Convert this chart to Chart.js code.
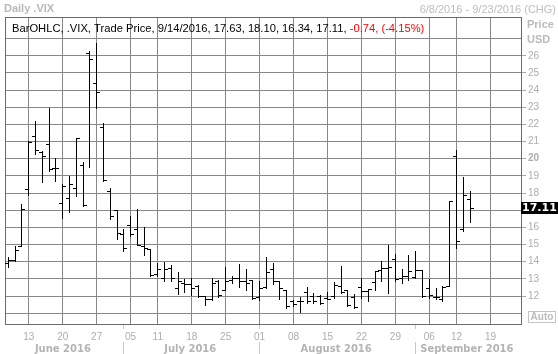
<!DOCTYPE html>
<html><head><meta charset="utf-8">
<script src="https://cdn.jsdelivr.net/npm/chart.js@4.4.1/dist/chart.umd.min.js"></script>
<style>html,body{margin:0;padding:0;background:#fff;overflow:hidden}canvas{display:block}</style>
</head><body>
<canvas id="c" width="558" height="354"></canvas>
<script>
// ---- data ----
const dates = ['6/8','6/9','6/10','6/13','6/14','6/15','6/16','6/17','6/20','6/21','6/22','6/23','6/24','6/27','6/28','6/29','6/30',
 '7/1','7/5','7/6','7/7','7/8','7/11','7/12','7/13','7/14','7/15','7/18','7/19','7/20','7/21','7/22','7/25','7/26','7/27','7/28','7/29',
 '8/1','8/2','8/3','8/4','8/5','8/8','8/9','8/10','8/11','8/12','8/15','8/16','8/17','8/18','8/19','8/22','8/23','8/24','8/25','8/26','8/29','8/30','8/31',
 '9/1','9/2','9/6','9/7','9/8','9/9','9/12','9/13','9/14','9/15','9/16','9/19','9/20','9/21','9/22','9/23'];
const dataYear = 2016;
const openV  = [13.89,14.05,14.90,18.23,21.27,20.34,20.82,19.46,17.40,17.70,18.28,19.60,26.16,24.40,21.80,18.09,16.98,
 15.60,16.09,15.89,14.87,14.72,13.25,13.00,13.60,12.45,12.73,12.70,12.53,11.95,11.80,12.85,12.35,12.93,13.05,12.83,12.90,
 11.90,12.50,13.55,12.87,12.30,11.70,11.67,12.20,12.00,11.95,11.86,12.00,12.55,12.31,11.92,12.50,12.25,12.78,13.48,13.62,14.15,13.04,13.16,
 13.09,13.51,12.45,11.92,11.77,12.58,20.14,15.90,17.63];
const highV  = [14.28,14.91,17.37,21.02,22.19,20.47,22.93,20.04,18.52,19.00,21.20,19.81,26.30,26.74,22.10,18.29,17.02,
 15.90,16.67,17.06,16.00,14.75,13.90,14.00,13.80,13.40,13.00,13.05,12.65,12.00,13.07,12.95,13.71,13.17,13.85,13.57,12.95,
 12.90,14.25,13.90,12.90,12.35,11.77,11.92,12.55,12.15,12.05,12.25,12.84,13.76,12.35,12.10,13.03,12.40,13.45,14.07,14.99,14.44,13.60,14.38,
 14.62,13.51,12.97,12.45,12.58,17.54,20.49,18.94,18.10];
const lowV   = [13.70,14.05,14.90,17.89,20.28,18.62,19.26,18.68,16.57,16.90,17.80,17.25,19.52,22.93,18.70,16.48,15.30,
 14.63,15.47,14.95,14.39,13.18,13.17,12.85,12.90,12.14,12.25,12.05,11.95,11.47,11.76,11.95,12.33,12.78,12.54,12.35,11.81,
 11.78,12.44,12.73,11.80,11.28,11.42,11.09,11.60,11.62,11.55,11.80,11.86,12.15,11.43,11.30,11.90,11.70,12.35,12.90,12.16,12.90,12.74,12.93,
 13.05,11.96,11.86,11.80,11.72,12.58,14.77,15.80,16.34];
const closeV = [14.08,14.64,17.03,20.97,20.50,20.14,19.37,19.41,18.37,18.48,21.17,17.25,25.76,23.85,18.75,16.64,15.63,
 14.77,15.58,14.96,14.76,13.20,13.54,13.55,13.04,12.82,12.67,12.44,11.97,11.77,12.74,12.02,12.87,13.05,12.83,12.72,11.87,
 12.44,13.37,12.86,12.42,11.39,11.50,11.66,11.66,11.68,11.55,11.81,12.64,12.19,11.43,11.34,12.27,12.38,13.42,13.63,13.65,12.94,13.12,13.42,
 13.48,11.98,12.02,11.94,12.51,17.50,15.16,17.85,17.11];
const yGridValues  = [11,12,13,14,15,16,17,18,19,20,21,22,23,24,25,26,27];
const yLabelValues = [12,13,14,15,16,17,18,19,20,21,22,23,24,25,26];
const yBoldTick = 20;
const monthLabels = ['June 2016','July 2016','August 2016','September 2016'];
const titleText = 'Daily .VIX';
const rangeText = '6/8/2016 - 9/23/2016 (CHG)';
const seriesText = 'BarOHLC, .VIX, Trade Price';
const unitLabels = ['Price','USD'];

// ---- derived helpers ----
const FONT = "'Liberation Sans', Arial, sans-serif";
const DV = "'DejaVu Sans', Verdana, sans-serif";
const dObj = dates.map(s => { const [m,d] = s.split('/').map(Number); return new Date(dataYear, m-1, d); });
const weekIdx = [], monthIdx = [];
dObj.forEach((d,i) => {
  if (i > 0 && d.getDay() < dObj[i-1].getDay()) weekIdx.push(i);
  if (i > 0 && d.getMonth() !== dObj[i-1].getMonth()) monthIdx.push(i);
});
const dayLabel = v => { const d = dObj[Math.round(v)]; return d ? String(d.getDate()).padStart(2,'0') : ''; };

function tickImg(side){
  const c = document.createElement('canvas'); c.width = 7; c.height = 1;
  const g = c.getContext('2d'); g.fillStyle = '#000';
  if (side === 'L') g.fillRect(0,0,4,1); else g.fillRect(3,0,4,1);
  return c;
}

const barData   = lowV.map((l,i) => ({x:i, y:[l, highV[i]]}));
const openPts   = openV.map((v,i) => ({x:i, y:v}));
const closePts  = closeV.map((v,i) => ({x:i, y:v}));

const GRID = '#888888', FRAME = '#6a6a6a', LBL = '#adadad';

const crisp = {
  id:'crisp',
  afterDatasetsUpdate(chart){
    chart.data.datasets.forEach((ds,i) => {
      const meta = chart.getDatasetMeta(i);
      meta.data.forEach(el => {
        el.x = Math.round(el.x - 0.5) + 0.5;
        if (meta.type === 'bar') { el.y = Math.round(el.y); el.base = Math.round(el.base) + 1; }
        else el.y = Math.round(el.y - 0.5) + 0.5;
      });
    });
  }
};

const decor = {
  id:'decor',
  beforeDraw(chart){ const c = chart.ctx; c.save(); c.fillStyle = '#fff'; c.fillRect(0,0,chart.width,chart.height); c.restore(); },
  beforeDatasetsDraw(chart){
    const c = chart.ctx, a = chart.chartArea;
    c.save(); c.strokeStyle = FRAME; c.lineWidth = 1;
    c.strokeRect(Math.round(a.left)+0.5, Math.round(a.top)+0.5, Math.round(a.right)-Math.round(a.left), Math.round(a.bottom)-Math.round(a.top));
    c.restore();
  },
  afterDraw(chart){
    const c = chart.ctx, a = chart.chartArea, xs = chart.scales.x, ys = chart.scales.y;
    c.save();
    c.textBaseline = 'middle';
    // title row
    c.fillStyle = '#b8b8b8'; c.font = "bold 11px " + FONT; c.textAlign = 'left';
    c.fillText(titleText, 4, 9);
    c.font = "11px " + FONT; c.textAlign = 'right'; c.fillStyle = '#bdbdbd';
    c.fillText(rangeText, 556, 10);
    // legend row
    const n = closeV.length - 1, d = dObj[n];
    const chg = closeV[n] - closeV[n-1], pct = chg / closeV[n-1] * 100;
    const blackTxt = seriesText + ', ' + (d.getMonth()+1) + '/' + d.getDate() + '/' + d.getFullYear() + ', ' +
      [openV[n],highV[n],lowV[n],closeV[n]].map(v => v.toFixed(2)).join(', ') + ', ';
    const redTxt = chg.toFixed(2) + ', (' + pct.toFixed(2) + '%)';
    c.font = "11.2px " + FONT; c.textAlign = 'left'; c.fillStyle = '#000';
    c.fillText(blackTxt, 12, 28.5);
    const w = c.measureText(blackTxt).width;
    c.fillStyle = '#ff0000'; c.fillText(redTxt, 12 + w, 28.5);
    // unit labels
    c.fillStyle = '#bbbbbb'; c.font = "bold 11px " + FONT;
    c.fillText(unitLabels[0], 527, 25);
    c.fillText(unitLabels[1], 527, 40);
    // last price box
    const yp = Math.round(ys.getPixelForValue(closeV[n]));
    c.fillStyle = '#000'; c.fillRect(521, yp - 6, 37, 12);
    c.fillStyle = '#fff'; c.font = "bold 11px " + DV; c.textAlign = 'left';
    c.fillText(closeV[n].toFixed(2), 522, yp);
    // Auto button
    c.strokeStyle = '#c4c4c4'; c.strokeRect(528.5, 311.5, 27, 11);
    c.fillStyle = '#bbbbbb'; c.font = "bold 10px " + FONT; c.textAlign = 'center';
    c.fillText('Auto', 542, 317.5);
    // month separators and labels
    const bounds = [a.left].concat(monthIdx.map(i => xs.getPixelForValue(i))).concat([a.right]);
    c.strokeStyle = '#c8c8c8'; c.lineWidth = 1;
    monthIdx.forEach(i => {
      const x = Math.round(xs.getPixelForValue(i) - 0.5) + 0.5;
      c.beginPath(); c.moveTo(x, 325); c.lineTo(x, 329); c.moveTo(x, 342); c.lineTo(x, 354); c.stroke();
    });
    c.fillStyle = '#b4b4b4'; c.font = "bold 10px " + DV; c.textAlign = 'center';
    monthLabels.forEach((t,k) => {
      let cx = (bounds[k] + bounds[k+1]) / 2 - 1.5;
      c.fillText(t, cx, 349.5);
    });
    c.restore();
  }
};

new Chart(document.getElementById('c'), {
  type: 'bar',
  data: { datasets: [
    {type:'bar', data: barData, backgroundColor:'#000', borderWidth:0, barThickness:1, inflateAmount:0, grouped:false},
    {type:'scatter', data: openPts, pointStyle: tickImg('L'), pointRadius: 3},
    {type:'scatter', data: closePts, pointStyle: tickImg('R'), pointRadius: 3}
  ]},
  options: {
    responsive:false, animation:false, devicePixelRatio:1, events:[],
    layout:{padding:{left:4, top:17, right:0, bottom:0}},
    plugins:{legend:{display:false}, tooltip:{enabled:false}, title:{display:false}},
    scales:{
      x:{
        type:'linear', min:-0.5, max:dates.length-0.5, offset:false,
        afterBuildTicks: s => { s.ticks = weekIdx.map(v => ({value:v})); },
        afterFit: s => { s.height = 30; },
        grid:{color:GRID, drawTicks:false, offset:false},
        border:{display:false},
        ticks:{padding:7, color:LBL, font:{family:FONT, size:10}, autoSkip:false, maxRotation:0, callback: v => dayLabel(v)}
      },
      y:{
        type:'linear', position:'right', min:10.37, max:28.26,
        afterBuildTicks: s => { s.ticks = yGridValues.map(v => ({value:v})); },
        afterFit: s => { s.width = 37; },
        grid:{color:GRID, drawTicks:true, tickLength:5,
          tickColor: ctx => (ctx.tick && yLabelValues.includes(ctx.tick.value)) ? '#a8a8a8' : 'rgba(0,0,0,0)'},
        border:{display:false},
        ticks:{padding:2, color:LBL,
          font: ctx => ({family:FONT, size:10, weight: (ctx.tick && ctx.tick.value === yBoldTick) ? 'bold' : 'normal'}),
          callback: v => yLabelValues.includes(v) ? String(v) : ''}
      }
    }
  },
  plugins:[crisp, decor]
});
</script>
</body></html>
